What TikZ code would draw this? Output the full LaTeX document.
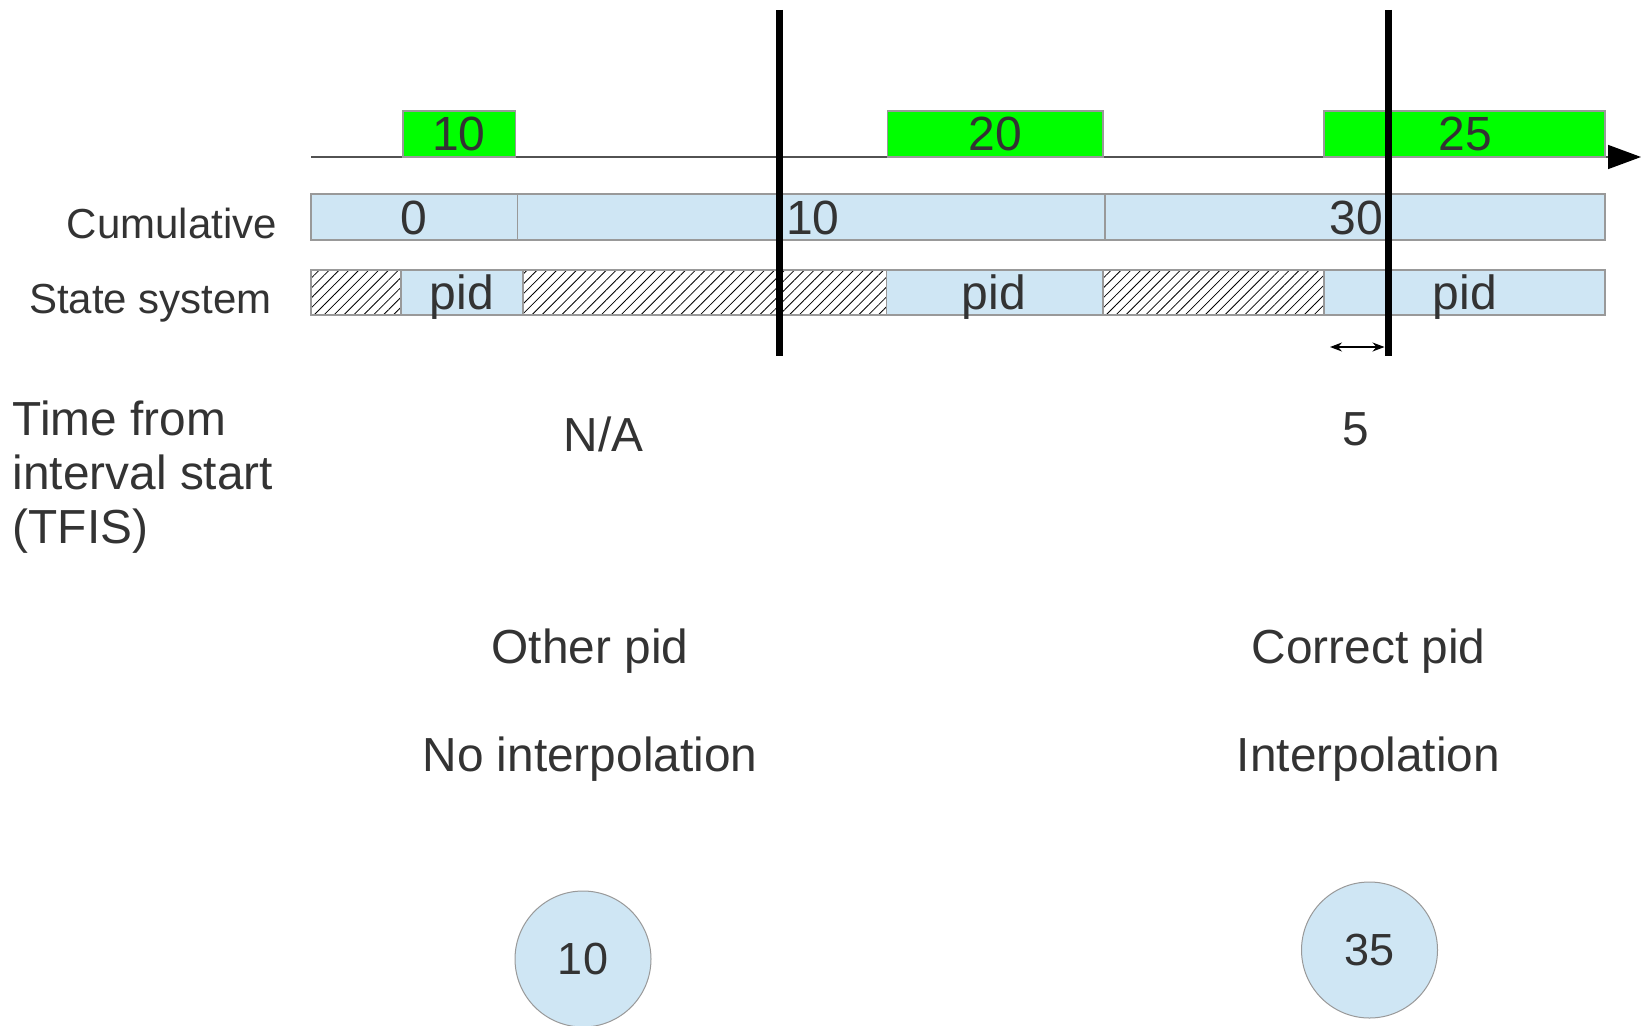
\documentclass[tikz,border=0pt]{standalone}
\usepackage{fontspec}
\setmainfont{Liberation Sans}
\usetikzlibrary{arrows.meta,patterns.meta}
\definecolor{txt}{HTML}{333333}
\definecolor{pale}{HTML}{CFE6F4}
\definecolor{grn}{HTML}{00FF00}
\definecolor{edge}{HTML}{999999}
\begin{document}
\begin{tikzpicture}[x=1pt,y=-1pt,
  lbl/.style={text=txt,font=\fontsize{47.8pt}{54pt}\selectfont,inner sep=0pt},
  side/.style={text=txt,font=\fontsize{42pt}{50pt}\selectfont,inner sep=0pt},
  num/.style={text=txt,font=\fontsize{48pt}{54pt}\selectfont,inner sep=0pt},
  bar/.style={fill=pale,draw=edge,line width=1.2pt},
  grnbox/.style={fill=grn,draw=edge,line width=1.2pt},
  hatch/.style={draw=edge,line width=1.2pt,pattern={Lines[angle=45,distance=7pt,line width=0.8pt]}},
  marker/.style={line width=7pt,black},
  result/.style={circle,minimum size=136pt,fill=pale,draw=edge,line width=1pt,inner sep=0pt,text=txt,font=\fontsize{45pt}{50pt}\selectfont}
  ]
\useasboundingbox (0,0) rectangle (1643,1025);

% timeline
\coordinate (t0) at (311,157);
\coordinate (t1) at (1641,157);
\draw[line width=1.5pt,draw=txt!85,-{Triangle[length=33pt,width=24pt,black]}] (t0) -- (t1);

% green boxes
\path[grnbox] (403,111) rectangle (515.5,157);
\path[grnbox] (887.5,111) rectangle (1103,157);
\path[grnbox] (1324,111) rectangle (1605,157);
\node[num,anchor=base] (g1) at (459,150) {10};
\node[num,anchor=base] (g2) at (995.5,150) {20};
\node[num,anchor=base] (g3) at (1465,150) {25};

% cumulative bar
\path[bar] (311,194) rectangle (517.5,240);
\path[bar] (517.5,194) rectangle (1105,240);
\path[bar] (1105,194) rectangle (1605,240);
\node[num,anchor=base] (c0) at (414,234) {0};
\node[num,anchor=base west] (c10) at (786,234) {10};
\node[num,anchor=base east] (c30) at (1383,234) {30};

% state system bar
\path[hatch] (311,270) rectangle (401,315);
\path[bar] (401,270) rectangle (523,315);
\path[hatch] (523,270) rectangle (886.5,315);
\path[bar] (886.5,270) rectangle (1103,315);
\path[hatch] (1103,270) rectangle (1324,315);
\path[bar] (1324,270) rectangle (1605,315);
\node[num,anchor=base] (p1) at (462,309) {pid};
\node[num,anchor=base] (p2) at (994,309) {pid};
\node[num,anchor=base] (p3) at (1465,309) {pid};

% row labels
\node[side,anchor=base east] (lcum) at (277,238) {Cumulative};
\node[side,anchor=base east] (lss) at (272,313) {State system};

% markers
\coordinate (m1a) at (779.5,10);
\coordinate (m1b) at (779.5,356);
\coordinate (m2a) at (1388,10);
\coordinate (m2b) at (1388,356);
\draw[marker] (m1a) -- (m1b);
\draw[marker] (m2a) -- (m2b);

% distance arrow
\coordinate (d0) at (1330,347);
\coordinate (d1) at (1384.5,347);
\draw[line width=1.2pt,{Stealth[length=12pt,width=9pt]}-{Stealth[length=12pt,width=9pt]}] (d0) -- (d1);

% TFIS label
\node[lbl,anchor=base west] (tf1) at (12.5,435) {Time from};
\node[lbl,anchor=base west] (tf2) at (12.5,489) {interval start};
\node[lbl,anchor=base west] (tf3) at (12.5,543) {(TFIS)};

\node[lbl,anchor=base] (na) at (603.5,451) {N/A};
\node[lbl,anchor=base] (five) at (1356,445) {5};

\node[lbl,anchor=base] (other) at (590,663) {Other pid};
\node[lbl,anchor=base] (noint) at (590,771) {No interpolation};
\node[lbl,anchor=base] (corr) at (1368.5,663) {Correct pid};
\node[lbl,anchor=base] (interp) at (1368.5,771) {Interpolation};

% results
\node[result] (r1) at (583,959) {10};
\node[result] (r2) at (1369.5,950) {35};
\end{tikzpicture}
\end{document}
